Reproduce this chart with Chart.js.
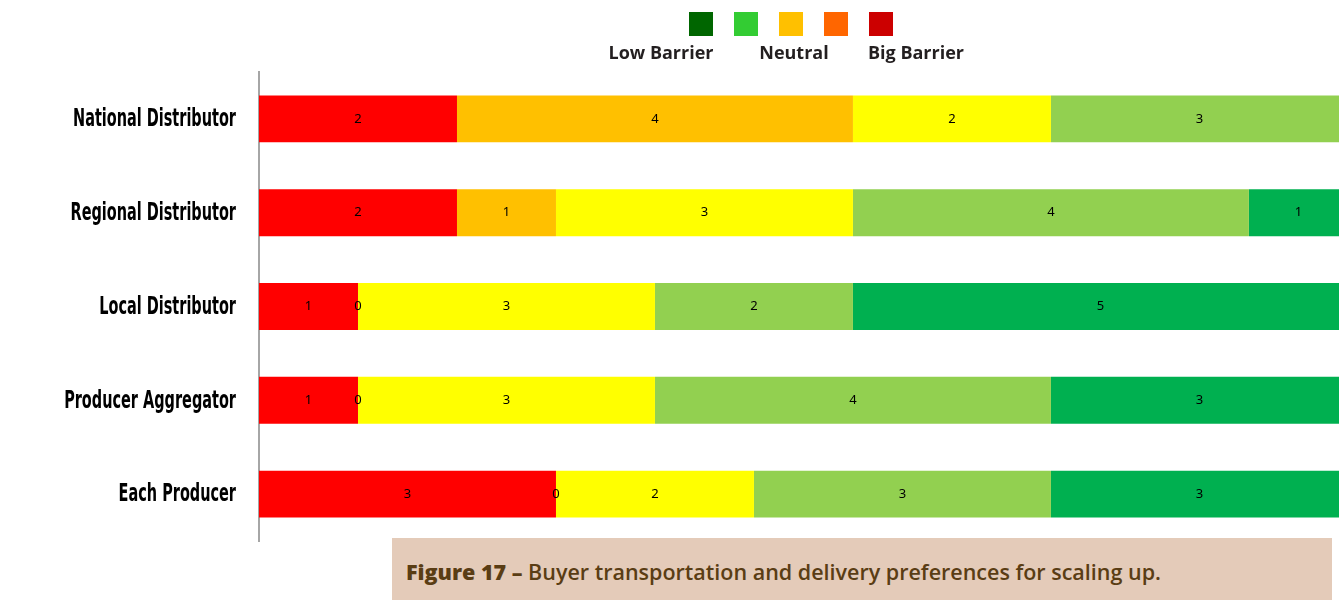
<!DOCTYPE html>
<html>
<head>
<meta charset="utf-8">
<script src="https://cdn.jsdelivr.net/npm/chart.js@4"></script>
<style>
  body { margin: 0; background: #fff; }
  #wrap { position: relative; width: 1339px; height: 600px; overflow: hidden; }
  #chart { position: absolute; left: 0; top: 0; }
  .sw { position: absolute; top: 12px; width: 24px; height: 24px; }
  .lg { position: absolute; top: 40px; font: bold 18px 'Open Sans', sans-serif; color: #231f20; white-space: nowrap; transform: translateX(-50%); }
  #caption { position: absolute; left: 392px; top: 538px; width: 940px; height: 62px; background: #e4cbb9; }
  #caption span { position: absolute; left: 14px; top: 19px; font: 600 21.5px 'Open Sans', sans-serif; color: #5a3d14; white-space: nowrap; }
  #caption b { font-weight: 800; }
</style>
</head>
<body>
<div id="wrap">
  <canvas id="chart" width="1339" height="600"></canvas>
  <div class="sw" style="left:689px;background:#006600"></div>
  <div class="sw" style="left:734px;background:#33cc33"></div>
  <div class="sw" style="left:779px;background:#ffc000"></div>
  <div class="sw" style="left:824px;background:#ff6600"></div>
  <div class="sw" style="left:869px;background:#cc0000"></div>
  <div class="lg" style="left:661px">Low Barrier</div>
  <div class="lg" style="left:794px">Neutral</div>
  <div class="lg" style="left:916px">Big Barrier</div>
  <div id="caption"><span><b>Figure 17 –</b> Buyer transportation and delivery preferences for scaling up.</span></div>
</div>
<script>
const categories = ['National Distributor', 'Regional Distributor', 'Local Distributor', 'Producer Aggregator', 'Each Producer'];

const bigBarrier = [2, 2, 1, 1, 3];
const someBarrier = [4, 1, 0, 0, 0];
const neutral = [2, 3, 3, 3, 2];
const lowBarrier = [3, 4, 2, 4, 3];
const noBarrier = [null, 1, 5, 3, 3];

const seriesColors = ['#ff0000', '#ffc000', '#ffff00', '#92d050', '#00b050'];

// value in the middle of every bar segment (zeros too), plus narrow category names
const barLabels = {
    id: 'barLabels',
    afterDatasetsDraw(chart) {
        const ctx = chart.ctx;
        ctx.save();
        ctx.font = '13px "Noto Sans", sans-serif';
        ctx.fillStyle = '#000';
        ctx.textAlign = 'center';
        ctx.textBaseline = 'middle';
        chart.data.datasets.forEach((ds, i) => {
            chart.getDatasetMeta(i).data.forEach((bar, j) => {
                const v = ds.data[j];
                if (v === null || v === undefined) return;
                const p = bar.getProps(['x', 'y', 'base'], true);
                ctx.fillText(String(v), (p.x + p.base) / 2, p.y);
            });
        });

        const yScale = chart.scales.y;
        const squeeze = 0.67;
        ctx.font = 'bold 24px "DejaVu Sans Condensed", "DejaVu Sans", sans-serif';
        ctx.textAlign = 'right';
        chart.data.labels.forEach((label, i) => {
            ctx.save();
            ctx.translate(236, yScale.getPixelForValue(i) + 1);
            ctx.scale(squeeze, 1);
            ctx.fillText(label, 0, 0);
            ctx.restore();
        });
        ctx.restore();
    }
};

new Chart(document.getElementById('chart').getContext('2d'), {
    type: 'bar',
    data: {
        labels: categories,
        datasets: [bigBarrier, someBarrier, neutral, lowBarrier, noBarrier].map((d, i) => ({
            data: d,
            backgroundColor: seriesColors[i],
            borderWidth: 0,
            barPercentage: 0.5,
            categoryPercentage: 1,
            clip: false
        }))
    },
    options: {
        indexAxis: 'y',
        responsive: false,
        animation: false,
        layout: { padding: { top: 72, bottom: 59, left: 0, right: 0 } },
        scales: {
            x: {
                stacked: true,
                min: 0,
                max: 10.91,
                display: false
            },
            y: {
                stacked: true,
                afterFit: (s) => { s.width = 259; },
                grid: { display: false, drawTicks: false },
                border: { display: true, color: '#a6a6a6', width: 2 },
                ticks: { display: false }
            }
        },
        plugins: {
            legend: { display: false },
            tooltip: { enabled: false }
        }
    },
    plugins: [barLabels]
});
</script>
</body>
</html>
